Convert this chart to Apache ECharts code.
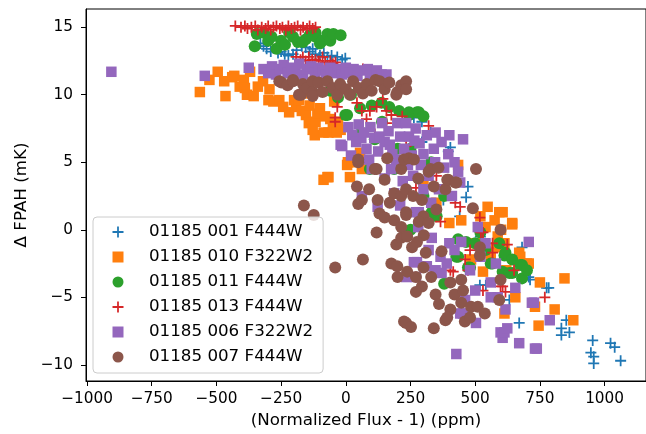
<!DOCTYPE html>
<html><head><meta charset="utf-8">
<script src="https://cdn.jsdelivr.net/npm/echarts@6/dist/echarts.min.js"></script>
<style>html,body{margin:0;padding:0;background:#fff}#c{width:646px;height:434px}</style>
</head><body><div id="c"></div>
<script>
const seriesNames = ['01185 001 F444W','01185 010 F322W2','01185 011 F444W','01185 013 F444W','01185 006 F322W2','01185 007 F444W'];
const xTicks = [-1000,-750,-500,-250,0,250,500,750,1000];
const yTicks = [-10,-5,0,5,10,15];
const xTitle = '(Normalized Flux - 1) (ppm)';
const yTitle = 'Δ FPAH (mK)';

const s001 = [[-330,13.8],[-318,13.6],[-306,13.4],[-290,13.2],[-262,13.1],[-250,13.2],[-236,13.0],[-222,12.9],[-204,13.0],[-190,13.3],[-170,13.6],[-155,13.5],[-140,13.2],[-128,13.4],[-117,13.0],[-100,12.9],[-85,13.1],[-71,12.8],[-55,12.9],[-33,12.8],[-14,12.6],[-2,12.7],
[263,8.3],[294,8.0],[328,7.2],[294,6.5],[404,6.1],[396,5.8],[340,4.5],[472,3.2],[465,2.4],[377,2.2],[440,1.0],[520,-0.5],
[548,-1.5],[556,-1.6],[518,-4.1],[541,-4.1],[632,-5.2],[681,-1.3],[693,-3.3],[707,-3.5],[712,-3.7],[776,-4.3],[784,-4.3],[670,-6.9],[833,-7.3],[852,-6.7],[864,-7.6],[833,-7.8],[954,-8.2],[947,-9.1],[958,-9.4],[958,-9.9],[1023,-8.4],[1039,-8.7],[1062,-9.7]];

const s010 = [[-564,10.2],[-527,11.1],[-495,11.7],[-470,11.0],[-465,9.9],[-439,11.3],[-431,11.4],[-410,10.6],[-394,11.1],[-390,10.5],[-382,10.0],[-370,11.7],[-356,9.9],[-340,10.6],[-320,11.0],[-295,10.4],[-299,9.6],[-280,9.5],[-257,9.6],[-242,9.1],[-219,8.7],[-200,9.6],[-192,9.1],[-181,9.6],[-170,8.8],[-160,10.1],[-154,8.5],[-143,7.9],[-140,9.2],[-128,7.4],[-120,7.0],[-117,8.0],[-110,8.6],[-100,9.0],[-86,7.2],[-80,8.4],[-67,7.2],[-60,8.2],[-50,7.6],[-45,9.5],[-35,7.2],[-30,8.0],[-20,7.4],[-20,10.5],
[-86,3.7],[-71,3.9],[-67,3.9],[5,4.8],[16,3.9],[8,5.0],[24,5.0],[62,4.5],[55,5.7],
[300,3.5],[350,2.0],[400,0.5],[434,4.8],[446,0.7],[484,-2.2],[500,-1.0],[520,1.0],[530,-3.1],[540,0.2],[548,1.7],[560,-2.0],[575,0.7],[580,-1.3],[587,-0.5],[593,1.3],[600,0.0],[606,1.3],[613,-1.0],[613,-6.2],[620,-3.0],[643,0.5],[643,0.4],[655,-5.0],[670,-1.7],[674,-2.0],[700,-2.5],[707,-2.5],[731,-5.7],[745,-7.1],[750,-3.9],[807,-5.9],[845,-3.6],[879,-6.7]];

const s011 = [[-352,13.6],[-344,14.5],[-318,14.6],[-300,14.0],[-287,14.3],[-268,13.4],[-250,14.0],[-235,13.7],[-219,14.6],[-204,14.3],[-185,13.9],[-166,13.9],[-155,14.1],[-140,14.4],[-117,14.6],[-117,14.3],[-100,13.8],[-90,14.0],[-71,14.5],[-60,14.0],[-48,14.5],[-20,14.4],
[-60,10.3],[-30,9.8],[20,10.0],[-2,8.5],[5,8.5],[55,9.0],[100,9.2],[138,9.4],[140,8.0],[168,9.1],[206,8.8],[244,8.5],[244,8.7],[275,8.7],[282,8.7],[300,8.4],
[60,7.2],[93,4.5],[112,6.7],[187,4.5],[200,6.0],[250,6.0],[300,2.5],[330,5.0],[380,2.5],
[250,0.0],[351,1.0],[332,1.3],[434,-0.7],[465,-0.9],[500,-1.0],[520,-0.2],[540,-1.5],[593,-1.0],[613,-1.9],[617,-1.7],[427,-2.0],[434,-2.0],[643,-2.2],[560,-2.5],[567,-2.5],[681,-2.6],[674,-2.6],[472,-2.8],[480,-2.8],[606,-3.1],[632,-3.2],[643,-3.2],[681,-3.6],[700,-3.0],[380,-4.0]];

const s013 = [[-427,15.1],[-405,15.0],[-390,15.1],[-380,14.9],[-365,15.0],[-350,15.1],[-340,14.8],[-325,15.0],[-310,14.9],[-300,15.1],[-290,14.8],[-280,15.0],[-268,15.1],[-255,14.9],[-245,15.0],[-232,14.8],[-222,15.1],[-210,14.9],[-198,15.0],[-186,15.1],[-175,14.8],[-165,15.0],[-150,14.9],[-140,15.1],[-128,14.9],[-117,15.0],
[-192,12.8],[-175,12.6],[-166,12.8],[-155,12.5],[-143,12.8],[-130,12.6],[-117,12.6],[-105,12.5],[-90,12.8],[-80,12.4],[-60,12.5],[-50,12.3],[-40,12.4],[16,11.7],[66,11.9],
[-33,9.1],[-41,8.3],[-41,8.0],[43,9.4],[62,8.8],[80,8.2],[93,8.8],[112,7.1],[119,9.1],[143,9.7],[157,8.8],[157,7.9],[176,8.5],[218,8.4],[233,6.2],[320,7.7],[275,3.9],[271,3.1],[200,5.0],[350,4.0],
[366,0.6],[423,2.0],[442,1.7],[404,-3.0],[415,-3.1],[461,-2.2],[472,-3.0],[480,-1.5],[518,0.9],[522,-0.2],[530,-0.2],[567,-1.0],[567,-1.7],[624,-1.1],[650,-3.0],[530,-4.5],[598,-4.2],[606,-4.2],[617,-4.6],[769,-5.0]];

const s006 = [[-906,11.7],[-545,11.4],[-375,12.0],[-318,11.9],[-300,11.6],[-285,12.1],[-270,11.5],[-255,11.9],[-240,12.2],[-225,11.6],[-210,12.0],[-195,11.7],[-180,12.3],[-165,11.5],[-150,11.9],[-135,12.1],[-120,11.6],[-105,12.0],[-90,11.8],[-78,11.5],[-60,12.0],[-45,11.6],[-30,11.9],[-15,11.5],[0,12.0],[15,11.6],[30,11.9],[45,11.4],[60,11.8],[85,11.9],[93,11.4],[120,11.8],[138,11.5],[157,11.5],
[-20,6.3],[-14,6.2],[10,7.6],[20,5.5],[25,7.0],[40,6.5],[50,7.8],[60,6.8],[70,7.2],[80,6.0],[90,5.2],[95,7.6],[110,6.8],[125,5.8],[130,6.9],[140,7.9],[150,6.5],[165,7.3],[170,6.3],[175,4.5],[180,5.6],[195,5.2],[199,7.9],[210,6.9],[225,6.0],[233,7.9],[240,4.8],[244,6.9],[255,5.5],[265,6.6],[270,7.5],[285,6.4],[290,4.8],[300,5.6],[313,7.0],[320,4.0],[345,5.0],[347,7.2],[340,6.0],[370,6.5],[396,5.6],[400,7.0],[380,4.6],[420,5.0],[434,4.3],[442,3.5],[453,6.7],[62,2.5],[123,1.7],[187,2.7],[150,3.8],[100,4.5],[210,1.8],[220,3.6],[260,4.0],[300,3.0],[330,2.0],[360,3.0],[410,2.5],
[271,1.3],[282,1.3],[280,0.2],[332,-0.6],[320,-1.5],[275,-2.4],[263,-2.4],[271,-3.5],[233,-3.5],[313,-2.7],[347,-3.0],[370,-3.2],[366,-2.0],[390,-2.5],[400,-1.0],[420,-1.5],[446,-0.9],[480,-3.0],[500,-4.5],[510,0.2],[520,-2.0],[540,-1.0],[580,-2.5],[560,-3.9],[587,-5.0],[560,-5.0],[503,-6.9],[461,-5.2],[442,-6.2],[453,-6.2],[598,-7.6],[606,-8.0],[613,-7.6],[617,-5.9],[624,-7.3],[655,-4.3],[670,-8.4],[707,-0.9],[719,-5.4],[727,-5.4],[731,-8.8],[738,-8.8],[788,-6.7],[427,-9.2]];

const s007 = [[-257,11.0],[-249,10.9],[-225,10.7],[-204,11.1],[-204,11.0],[-181,10.0],[-173,10.0],[-166,10.8],[-150,10.5],[-128,11.0],[-128,10.2],[-128,9.9],[-105,10.9],[-90,10.2],[-71,11.0],[-50,10.5],[-33,10.0],[-22,10.8],[0,10.4],[16,10.0],[28,11.0],[50,10.5],[66,10.1],[81,10.8],[100,10.3],[115,11.1],[131,11.0],[150,10.4],[168,10.9],[195,10.0],[199,10.2],[214,10.7],[233,11.0],[233,10.4],
[-162,1.8],[-124,1.1],[43,3.2],[48,5.0],[48,5.2],[48,1.9],[62,2.2],[90,3.0],[112,4.5],[119,4.5],[123,2.2],[130,1.2],[150,3.7],[150,0.9],[160,5.3],[170,2.0],[187,0.7],[187,2.7],[214,2.5],[214,4.5],[225,5.2],[233,3.0],[233,1.3],[244,5.3],[260,2.5],[263,5.2],[280,3.8],[294,2.2],[300,1.0],[320,4.3],[328,4.5],[340,3.2],[350,1.5],[358,4.6],[385,3.0],[392,3.7],[396,3.7],[423,3.5],[427,3.5],[491,1.6],[503,4.5],
[119,-0.2],[195,-1.1],[214,-0.6],[66,-2.2],[-41,-2.8],[176,-2.5],[199,-2.7],[200,-3.5],[225,-6.8],[233,1.1],[282,0.6],[320,0.5],[214,0.2],[237,-0.5],[301,-0.4],[275,-0.9],[256,-1.3],[309,-1.7],[370,-1.6],[237,-3.1],[271,-3.5],[300,-2.8],[330,-3.5],[294,-4.2],[271,-4.6],[347,-4.8],[360,-5.5],[404,-3.9],[420,-4.8],[446,-3.7],[453,-4.5],[446,-5.4],[404,-5.9],[385,-6.7],[233,-6.9],[252,-7.2],[340,-7.3],[392,-6.5],[460,-6.8],[480,-6.5],[484,-5.7],[510,-5.7],[537,-6.2],[598,0.0],[518,-1.9],[518,-1.3],[593,-5.2],[598,-3.7]];

const seriesData = [s001, s010, s011, s013, s006, s007];
const colors = ['#1f77b4','#ff7f0e','#2ca02c','#d62728','#9467bd','#8c564b'];
const plus = 'path://M0,4.2H10V5.8H0Z M4.2,0H5.8V10H4.2Z';
const symbols = [plus,'rect','circle',plus,'rect','circle'];
const sizes = [11,10.5,12,11,10.5,12];
const FONT = 'DejaVu Sans';
const minus = v => String(v).replace('-', '\u2212');

const chart = echarts.init(document.getElementById('c'), null, {renderer:'canvas'});
chart.setOption({
  animation:false,
  backgroundColor:'#fff',
  grid:{left:86, top:9, width:570, height:372, show:true, borderColor:'#000', borderWidth:1, backgroundColor:'transparent'},
  xAxis:{type:'value', min:-1004, max:1160,
    name:xTitle, nameLocation:'middle', nameGap:30,
    nameTextStyle:{fontFamily:FONT, fontSize:16.7, color:'#000'},
    axisLine:{show:true, onZero:false, lineStyle:{color:'#000', width:1}},
    axisTick:{show:true, length:5, customValues:xTicks, lineStyle:{color:'#000', width:1}},
    axisLabel:{customValues:xTicks, formatter:minus, fontFamily:FONT, fontSize:15.3, color:'#000', margin:11},
    splitLine:{show:false}},
  yAxis:{type:'value', min:-11.2, max:16.35,
    name:yTitle, nameLocation:'middle', nameGap:55,
    nameTextStyle:{fontFamily:FONT, fontSize:16.7, color:'#000'},
    axisLine:{show:true, onZero:false, lineStyle:{color:'#000', width:1}},
    axisTick:{show:true, length:5, customValues:yTicks, lineStyle:{color:'#000', width:1}},
    axisLabel:{customValues:yTicks, formatter:minus, fontFamily:FONT, fontSize:15.3, color:'#000', margin:13},
    splitLine:{show:false}},
  legend:{orient:'vertical', left:93, top:217,
    padding:[6.5,10,7.5,19.5], itemWidth:11, itemHeight:11, itemGap:8,
    borderColor:'#cccccc', borderWidth:1, borderRadius:4, backgroundColor:'rgba(255,255,255,0.8)',
    textStyle:{fontFamily:FONT, fontSize:16.7, color:'#000', padding:[0,0,0,20.5], lineHeight:17},
    data:seriesNames},
  series: seriesData.map((d,i)=>({
    type:'scatter', name:seriesNames[i], data:d,
    symbol:symbols[i], symbolSize:sizes[i],
    itemStyle:{color:colors[i], opacity:1},
    emphasis:{disabled:true}
  }))
});
</script></body></html>
